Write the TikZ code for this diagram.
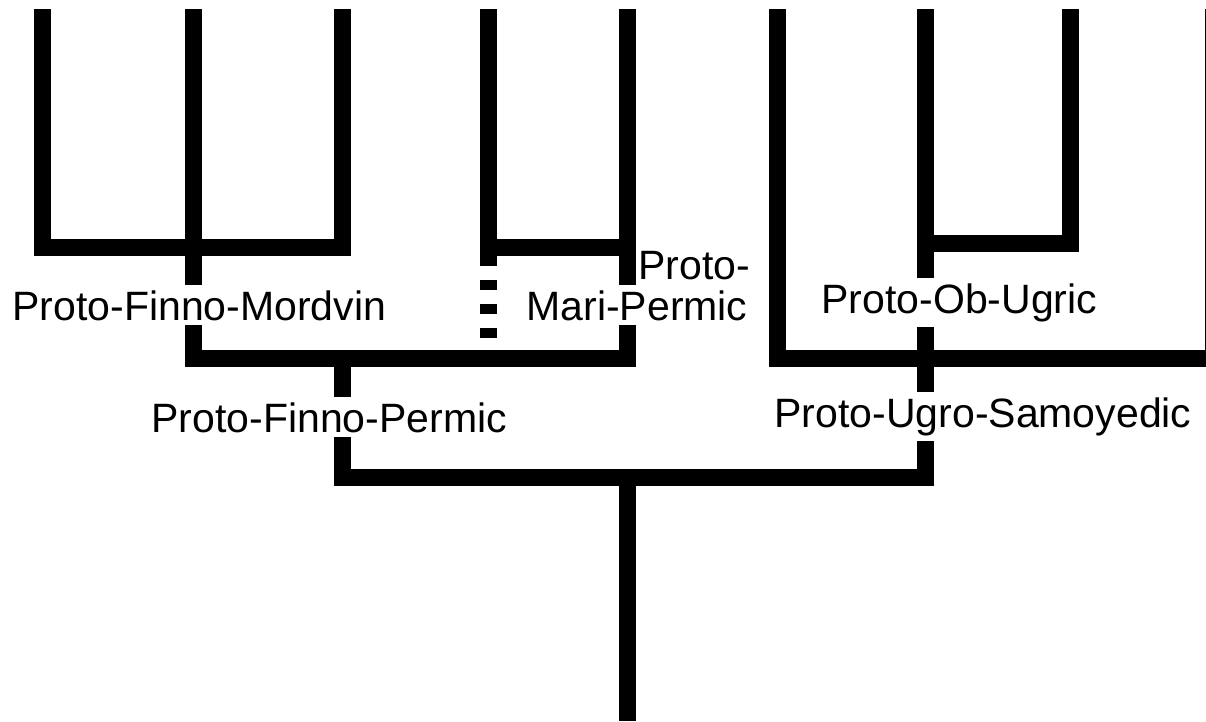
\documentclass[tikz,border=0pt]{standalone}
\usepackage{fontspec}
\setmainfont{Liberation Sans}

\begin{document}
\begin{tikzpicture}[x=1pt, y=-1pt, line width=17pt, line join=miter,
                    lbl/.style={fill=white, inner xsep=0pt, inner ysep=5pt, anchor=base west,
                                font=\fontsize{41}{49}\selectfont}]
                            \useasboundingbox (0,0) rectangle (1206,721);

                            % leaves
                            \coordinate (l1) at (42,9);
                            \coordinate (l2) at (193,9);
                            \coordinate (l3) at (342,9);
                            \coordinate (l4) at (488,9);
                            \coordinate (l5) at (627,9);
                            \coordinate (l6) at (777,9);
                            \coordinate (l7) at (925,9);
                            \coordinate (l8) at (1070,9);
                            \coordinate (l9) at (1213,9);

                            % branch points
                            \coordinate (fmr) at (342,247);
                            \coordinate (mpl) at (488,247);
                            \coordinate (mpr) at (627,247);
                            \coordinate (mpd) at (488,358);
                            \coordinate (ou) at (925,243);
                            \coordinate (fpl) at (193,358);
                            \coordinate (fpm) at (342,358);
                            \coordinate (usr) at (1213,358);
                            \coordinate (root) at (925,477);
                            \coordinate (rtop) at (627,477);
                            \coordinate (rend) at (627,721);

                            \draw (l1) |- (fmr) -- (l3);
                            \draw (l5) |- (fpl) -- (l2);
                            \draw (l4) -- (mpl) -- (mpr);
                            \draw[dash pattern=on 10pt off 14pt, dash phase=15pt] (mpl) -- (mpd);
                            \draw (ou) -| (l8);
                            \draw (l6) |- (usr) -- (l9);
                            \draw (fpm) |- (root) -- (l7);
                            \draw (rtop) -- (rend);

                            \node[lbl] (pfm) at (4,320) {Proto-Finno-Mordvin};
                            \node[lbl] (pfp) at (143,432) {Proto-Finno-Permic};
                            \node[lbl] (pmp) at (518,320) {Mari-Permic};
                            \node[lbl, fill=none] (pmpa) at (630,279) {Proto-};
                            \node[lbl] (pou) at (813,313) {Proto-Ob-Ugric};
                            \node[lbl] (pus) at (766,427) {Proto-Ugro-Samoyedic};
                        \end{tikzpicture}
\end{document}
